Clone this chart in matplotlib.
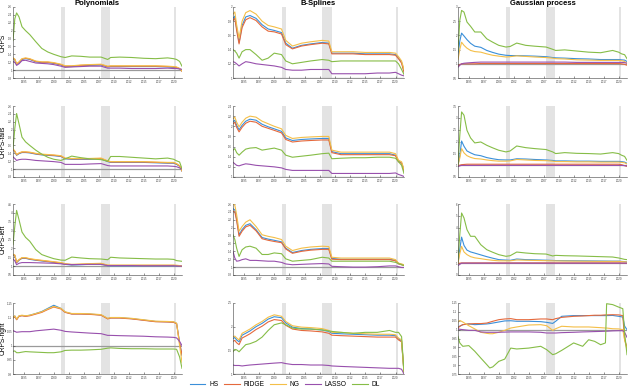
import matplotlib
matplotlib.use("Agg")
import matplotlib.pyplot as plt
from matplotlib.ticker import FormatStrFormatter

plt.rcParams['font.family'] = ['Liberation Sans', 'DejaVu Sans']

# knot dates (decimal years) shared by most panels
T = [1993.2, 1993.5, 1993.8, 1994.2, 1994.7, 1995.3, 1996.0, 1997.0, 1998.0, 1999.0,
     2000.0, 2001.2, 2001.9, 2003.0, 2004.5, 2006.0, 2007.9, 2009.0, 2009.5, 2011.0,
     2013.0, 2015.0, 2017.0, 2019.0, 2020.0, 2020.5, 2021.0, 2021.4]
# own dates for the GP / CRPS-right panel (DL jumps in 2018)
T_GP_RIGHT = [1993.2, 1993.5, 1994.0, 1995.0, 1996.0, 1997.0, 1998.0, 1998.5, 1999.0, 2000.0,
              2001.0, 2002.0, 2003.0, 2005.0, 2007.0, 2008.0, 2009.0, 2009.5, 2010.5, 2012.5,
              2014.0, 2015.0, 2016.0, 2017.0, 2017.8, 2018.0, 2019.0, 2020.0, 2020.7, 2021.0, 2021.4]

models = ['HS', 'RIDGE', 'NG', 'LASSO', 'DL']
colors = ['#3a8fd9', '#e5693c', '#f4bf48', '#9850ad', '#86bd47']
col_titles = ['Polynomials', 'B-Splines', 'Gaussian process']
row_labels = ['CRPS', 'CRPS-tails', 'CRPS-left', 'CRPS-right']
recessions = [(2001.2, 2001.9), (2007.92, 2009.45), (2020.0, 2020.4)]

# ---- row 1: CRPS ----
poly_crps = {
    'HS':    [1.29, 1.26, 1.14, 1.19, 1.27, 1.29, 1.27, 1.21, 1.19, 1.19, 1.17, 1.13, 1.09, 1.09, 1.11, 1.12, 1.13, 1.08, 1.09, 1.09, 1.09, 1.09, 1.09, 1.08, 1.07, 1.06, 1.03, 0.98],
    'RIDGE': [1.30, 1.27, 1.15, 1.20, 1.28, 1.30, 1.28, 1.22, 1.20, 1.20, 1.18, 1.14, 1.10, 1.10, 1.12, 1.13, 1.14, 1.09, 1.10, 1.10, 1.10, 1.10, 1.10, 1.09, 1.08, 1.07, 1.04, 0.97],
    'NG':    [1.31, 1.28, 1.16, 1.21, 1.29, 1.31, 1.29, 1.23, 1.21, 1.21, 1.19, 1.15, 1.11, 1.11, 1.13, 1.14, 1.15, 1.10, 1.11, 1.11, 1.11, 1.11, 1.11, 1.10, 1.09, 1.08, 1.04, 0.98],
    'LASSO': [1.22, 1.20, 1.12, 1.16, 1.24, 1.25, 1.22, 1.18, 1.17, 1.16, 1.14, 1.10, 1.07, 1.08, 1.09, 1.10, 1.10, 1.05, 1.05, 1.05, 1.04, 1.04, 1.04, 1.05, 1.04, 1.04, 1.03, 1.02],
    'DL':    [1.75, 2.30, 2.45, 2.35, 2.10, 2.00, 1.90, 1.72, 1.55, 1.46, 1.40, 1.34, 1.32, 1.36, 1.35, 1.33, 1.33, 1.27, 1.32, 1.33, 1.32, 1.30, 1.29, 1.31, 1.29, 1.27, 1.22, 1.10],
}
bspl_crps = {
    'HS':    [1.84, 1.87, 1.70, 1.50, 1.74, 1.86, 1.88, 1.84, 1.75, 1.69, 1.67, 1.64, 1.49, 1.42, 1.46, 1.48, 1.50, 1.49, 1.35, 1.35, 1.35, 1.34, 1.34, 1.34, 1.33, 1.28, 1.22, 1.10],
    'RIDGE': [1.81, 1.84, 1.67, 1.48, 1.71, 1.82, 1.85, 1.81, 1.72, 1.66, 1.65, 1.62, 1.47, 1.41, 1.45, 1.47, 1.49, 1.48, 1.34, 1.34, 1.34, 1.33, 1.33, 1.33, 1.32, 1.27, 1.21, 1.08],
    'NG':    [1.90, 1.93, 1.75, 1.56, 1.80, 1.92, 1.95, 1.90, 1.80, 1.74, 1.72, 1.69, 1.53, 1.45, 1.49, 1.51, 1.53, 1.52, 1.37, 1.37, 1.37, 1.36, 1.36, 1.36, 1.35, 1.30, 1.24, 1.12],
    'LASSO': [1.23, 1.22, 1.20, 1.17, 1.20, 1.23, 1.22, 1.20, 1.19, 1.18, 1.17, 1.15, 1.12, 1.11, 1.11, 1.12, 1.12, 1.12, 1.06, 1.06, 1.06, 1.06, 1.07, 1.07, 1.08, 1.06, 1.04, 1.03],
    'DL':    [1.40, 1.38, 1.35, 1.28, 1.37, 1.40, 1.40, 1.33, 1.25, 1.28, 1.35, 1.33, 1.24, 1.20, 1.22, 1.24, 1.26, 1.25, 1.23, 1.24, 1.24, 1.24, 1.24, 1.24, 1.24, 1.20, 1.12, 1.05],
}
gp_crps = {
    'HS':    [1.30, 1.80, 2.08, 1.98, 1.85, 1.72, 1.62, 1.58, 1.47, 1.40, 1.34, 1.30, 1.29, 1.29, 1.28, 1.27, 1.25, 1.22, 1.21, 1.20, 1.18, 1.17, 1.15, 1.15, 1.15, 1.14, 1.13, 1.08],
    'RIDGE': [0.93, 0.97, 1.00, 1.00, 1.00, 1.00, 1.00, 1.01, 1.01, 1.01, 1.01, 1.01, 1.01, 1.01, 1.01, 1.01, 1.01, 1.01, 1.01, 1.01, 1.01, 1.01, 1.01, 1.01, 1.01, 1.00, 0.98, 0.95],
    'NG':    [1.15, 1.50, 1.76, 1.65, 1.55, 1.47, 1.43, 1.41, 1.35, 1.30, 1.27, 1.24, 1.25, 1.28, 1.26, 1.24, 1.22, 1.20, 1.18, 1.17, 1.14, 1.13, 1.12, 1.12, 1.12, 1.11, 1.08, 1.02],
    'LASSO': [0.88, 0.95, 1.00, 1.02, 1.03, 1.04, 1.05, 1.06, 1.06, 1.06, 1.06, 1.06, 1.06, 1.06, 1.06, 1.06, 1.06, 1.06, 1.06, 1.06, 1.05, 1.05, 1.05, 1.05, 1.05, 1.05, 1.04, 1.02],
    'DL':    [1.47, 2.53, 2.88, 2.82, 2.47, 2.32, 2.12, 2.12, 1.88, 1.76, 1.65, 1.59, 1.61, 1.73, 1.65, 1.62, 1.59, 1.51, 1.47, 1.49, 1.45, 1.41, 1.39, 1.47, 1.41, 1.35, 1.32, 1.18],
}

# ---- row 2: CRPS-tails ----
poly_tails = {
    'HS':    [1.49, 1.44, 1.35, 1.39, 1.42, 1.42, 1.41, 1.38, 1.36, 1.35, 1.34, 1.32, 1.26, 1.25, 1.25, 1.25, 1.26, 1.19, 1.17, 1.17, 1.17, 1.17, 1.16, 1.15, 1.15, 1.12, 1.07, 0.95],
    'RIDGE': [1.50, 1.45, 1.36, 1.40, 1.43, 1.43, 1.42, 1.39, 1.37, 1.36, 1.35, 1.33, 1.27, 1.26, 1.26, 1.26, 1.27, 1.20, 1.18, 1.18, 1.18, 1.18, 1.17, 1.16, 1.16, 1.13, 1.08, 0.95],
    'NG':    [1.51, 1.46, 1.37, 1.41, 1.44, 1.44, 1.43, 1.40, 1.38, 1.37, 1.36, 1.34, 1.28, 1.27, 1.27, 1.27, 1.28, 1.21, 1.19, 1.19, 1.19, 1.19, 1.18, 1.17, 1.17, 1.14, 1.09, 0.96],
    'LASSO': [1.31, 1.27, 1.22, 1.24, 1.25, 1.25, 1.24, 1.22, 1.21, 1.20, 1.19, 1.17, 1.12, 1.12, 1.12, 1.13, 1.14, 1.09, 1.08, 1.08, 1.08, 1.08, 1.08, 1.08, 1.07, 1.06, 1.03, 1.00],
    'DL':    [1.52, 2.03, 2.41, 2.15, 1.81, 1.69, 1.60, 1.48, 1.38, 1.30, 1.25, 1.22, 1.26, 1.33, 1.29, 1.26, 1.24, 1.20, 1.32, 1.32, 1.30, 1.28, 1.26, 1.28, 1.25, 1.21, 1.18, 1.01],
}
bspl_tails = {
    'HS':    [2.09, 2.12, 2.02, 1.93, 2.02, 2.10, 2.14, 2.12, 2.04, 1.99, 1.95, 1.90, 1.77, 1.72, 1.74, 1.75, 1.76, 1.76, 1.50, 1.46, 1.46, 1.46, 1.46, 1.46, 1.43, 1.31, 1.28, 1.13],
    'RIDGE': [2.05, 2.08, 1.98, 1.89, 1.98, 2.06, 2.10, 2.08, 2.00, 1.96, 1.92, 1.87, 1.74, 1.69, 1.71, 1.72, 1.73, 1.73, 1.48, 1.44, 1.44, 1.44, 1.44, 1.44, 1.42, 1.30, 1.27, 1.12],
    'NG':    [2.15, 2.18, 2.08, 1.99, 2.08, 2.16, 2.20, 2.18, 2.10, 2.05, 2.00, 1.95, 1.82, 1.76, 1.78, 1.79, 1.80, 1.80, 1.53, 1.49, 1.49, 1.49, 1.49, 1.49, 1.46, 1.33, 1.30, 1.15],
    'LASSO': [1.29, 1.26, 1.23, 1.22, 1.24, 1.26, 1.25, 1.23, 1.22, 1.21, 1.20, 1.18, 1.15, 1.13, 1.13, 1.13, 1.13, 1.13, 1.07, 1.07, 1.07, 1.07, 1.07, 1.07, 1.08, 1.05, 1.03, 1.01],
    'DL':    [1.53, 1.56, 1.48, 1.43, 1.49, 1.55, 1.57, 1.58, 1.53, 1.55, 1.57, 1.53, 1.43, 1.39, 1.41, 1.43, 1.46, 1.47, 1.36, 1.37, 1.38, 1.38, 1.39, 1.39, 1.37, 1.30, 1.23, 1.07],
}
gp_tails = {
    'HS':    [1.00, 1.40, 2.02, 1.80, 1.60, 1.52, 1.44, 1.40, 1.32, 1.27, 1.23, 1.22, 1.22, 1.27, 1.26, 1.24, 1.22, 1.20, 1.18, 1.18, 1.17, 1.17, 1.16, 1.16, 1.16, 1.15, 1.13, 1.08],
    'RIDGE': [0.96, 1.00, 1.02, 1.03, 1.04, 1.04, 1.04, 1.04, 1.04, 1.04, 1.04, 1.04, 1.04, 1.04, 1.04, 1.04, 1.04, 1.04, 1.04, 1.04, 1.04, 1.04, 1.04, 1.04, 1.04, 1.02, 0.98, 0.95],
    'NG':    [1.00, 1.30, 1.70, 1.52, 1.40, 1.33, 1.28, 1.26, 1.22, 1.19, 1.17, 1.17, 1.18, 1.24, 1.22, 1.20, 1.19, 1.17, 1.15, 1.15, 1.14, 1.14, 1.13, 1.13, 1.13, 1.12, 1.10, 1.05],
    'LASSO': [0.94, 0.97, 0.99, 0.99, 0.99, 0.99, 0.99, 0.99, 0.99, 0.99, 0.99, 0.99, 0.99, 0.99, 0.99, 0.99, 0.99, 0.99, 0.99, 0.99, 0.99, 0.99, 0.99, 0.99, 0.99, 0.99, 0.98, 0.97],
    'DL':    [1.06, 2.26, 3.25, 3.11, 2.47, 2.15, 1.94, 1.98, 1.84, 1.73, 1.63, 1.56, 1.60, 1.81, 1.74, 1.70, 1.66, 1.56, 1.49, 1.53, 1.50, 1.49, 1.47, 1.53, 1.49, 1.42, 1.37, 1.20],
}

# ---- row 3: CRPS-left ----
poly_left = {
    'HS':    [1.63, 1.59, 1.19, 1.33, 1.44, 1.44, 1.38, 1.33, 1.29, 1.25, 1.21, 1.16, 1.10, 1.06, 1.08, 1.10, 1.12, 1.02, 1.02, 1.02, 1.02, 1.02, 1.02, 1.02, 1.02, 1.01, 1.00, 0.98],
    'RIDGE': [1.65, 1.61, 1.21, 1.35, 1.46, 1.46, 1.40, 1.35, 1.31, 1.27, 1.23, 1.18, 1.12, 1.08, 1.10, 1.12, 1.14, 1.04, 1.04, 1.04, 1.04, 1.04, 1.04, 1.04, 1.04, 1.03, 1.02, 0.99],
    'NG':    [1.67, 1.63, 1.23, 1.37, 1.48, 1.48, 1.42, 1.37, 1.33, 1.29, 1.25, 1.20, 1.14, 1.10, 1.12, 1.14, 1.16, 1.06, 1.06, 1.06, 1.06, 1.06, 1.06, 1.06, 1.06, 1.05, 1.03, 1.00],
    'LASSO': [1.40, 1.30, 1.08, 1.16, 1.20, 1.20, 1.20, 1.19, 1.18, 1.17, 1.16, 1.13, 1.10, 1.09, 1.09, 1.10, 1.10, 1.03, 1.03, 1.03, 1.03, 1.02, 1.02, 1.02, 1.02, 1.01, 1.00, 1.00],
    'DL':    [2.21, 3.24, 4.14, 3.62, 2.92, 2.62, 2.40, 1.93, 1.65, 1.53, 1.42, 1.34, 1.33, 1.51, 1.46, 1.42, 1.40, 1.36, 1.50, 1.46, 1.44, 1.42, 1.40, 1.40, 1.38, 1.31, 1.29, 1.27],
}
bspl_left = {
    'HS':    [2.48, 2.45, 2.22, 1.82, 1.95, 2.06, 2.10, 1.95, 1.75, 1.71, 1.68, 1.64, 1.48, 1.37, 1.42, 1.45, 1.47, 1.47, 1.22, 1.20, 1.20, 1.20, 1.20, 1.20, 1.17, 1.09, 1.07, 1.05],
    'RIDGE': [2.42, 2.40, 2.18, 1.78, 1.91, 2.02, 2.06, 1.92, 1.72, 1.68, 1.65, 1.62, 1.46, 1.35, 1.40, 1.43, 1.45, 1.45, 1.20, 1.19, 1.19, 1.19, 1.19, 1.19, 1.16, 1.08, 1.06, 1.04],
    'NG':    [2.60, 2.57, 2.33, 1.91, 2.03, 2.14, 2.20, 2.03, 1.82, 1.78, 1.75, 1.70, 1.53, 1.42, 1.48, 1.51, 1.53, 1.52, 1.25, 1.23, 1.23, 1.23, 1.23, 1.23, 1.19, 1.10, 1.08, 1.06],
    'LASSO': [1.40, 1.23, 1.15, 1.16, 1.19, 1.21, 1.17, 1.17, 1.16, 1.15, 1.15, 1.12, 1.08, 1.06, 1.07, 1.08, 1.09, 1.08, 1.02, 1.01, 1.00, 1.00, 1.01, 1.03, 1.03, 1.01, 0.99, 0.99],
    'DL':    [1.82, 1.70, 1.48, 1.27, 1.44, 1.51, 1.53, 1.48, 1.32, 1.32, 1.36, 1.34, 1.21, 1.15, 1.17, 1.19, 1.25, 1.23, 1.15, 1.15, 1.15, 1.15, 1.15, 1.15, 1.12, 1.09, 1.06, 1.04],
}
gp_left = {
    'HS':    [1.00, 2.20, 3.20, 2.50, 2.10, 1.95, 1.85, 1.70, 1.55, 1.42, 1.30, 1.26, 1.24, 1.35, 1.30, 1.28, 1.25, 1.23, 1.22, 1.21, 1.20, 1.19, 1.18, 1.17, 1.17, 1.15, 1.13, 1.10],
    'RIDGE': [0.95, 1.00, 1.02, 1.02, 1.02, 1.02, 1.02, 1.02, 1.02, 1.02, 1.02, 1.02, 1.02, 1.02, 1.02, 1.02, 1.02, 1.02, 1.02, 1.02, 1.02, 1.02, 1.02, 1.02, 1.02, 1.01, 1.00, 0.98],
    'NG':    [1.00, 1.80, 2.42, 1.95, 1.72, 1.55, 1.45, 1.38, 1.30, 1.24, 1.20, 1.20, 1.20, 1.27, 1.25, 1.23, 1.21, 1.20, 1.19, 1.18, 1.17, 1.16, 1.15, 1.15, 1.15, 1.13, 1.12, 1.10],
    'LASSO': [0.80, 0.90, 1.00, 1.00, 1.00, 1.00, 1.00, 1.00, 1.00, 1.00, 1.00, 1.00, 1.00, 1.00, 1.00, 1.00, 1.00, 1.00, 1.00, 1.00, 1.00, 1.00, 1.00, 1.00, 1.00, 1.00, 1.00, 1.00],
    'DL':    [1.30, 3.41, 5.24, 4.82, 3.83, 3.27, 3.27, 2.56, 2.14, 1.92, 1.72, 1.58, 1.63, 1.94, 1.86, 1.80, 1.77, 1.61, 1.66, 1.63, 1.61, 1.58, 1.55, 1.52, 1.44, 1.38, 1.32, 1.30],
}

# ---- row 4: CRPS-right ----
poly_right = {
    'HS':    [1.098, 1.104, 1.092, 1.104, 1.106, 1.104, 1.107, 1.113, 1.120, 1.131, 1.142, 1.131, 1.118, 1.112, 1.112, 1.111, 1.108, 1.095, 1.098, 1.098, 1.095, 1.090, 1.085, 1.084, 1.083, 1.078, 1.010, 0.965],
    'RIDGE': [1.097, 1.103, 1.091, 1.103, 1.105, 1.103, 1.105, 1.111, 1.117, 1.127, 1.136, 1.129, 1.117, 1.111, 1.111, 1.110, 1.107, 1.094, 1.097, 1.097, 1.094, 1.089, 1.084, 1.083, 1.082, 1.077, 1.009, 0.968],
    'NG':    [1.099, 1.105, 1.093, 1.105, 1.107, 1.105, 1.107, 1.113, 1.119, 1.129, 1.138, 1.131, 1.119, 1.113, 1.113, 1.112, 1.109, 1.096, 1.099, 1.099, 1.096, 1.091, 1.086, 1.085, 1.084, 1.079, 1.000, 0.940],
    'LASSO': [1.053, 1.050, 1.047, 1.048, 1.049, 1.049, 1.049, 1.052, 1.054, 1.056, 1.058, 1.054, 1.050, 1.048, 1.046, 1.044, 1.042, 1.036, 1.036, 1.035, 1.034, 1.033, 1.031, 1.030, 1.029, 1.027, 1.015, 1.000],
    'DL':    [0.980, 0.981, 0.975, 0.975, 0.977, 0.979, 0.978, 0.977, 0.976, 0.975, 0.975, 0.978, 0.983, 0.984, 0.984, 0.985, 0.987, 0.991, 0.992, 0.990, 0.989, 0.989, 0.988, 0.988, 0.988, 0.987, 0.960, 0.920],
}
bspl_right = {
    'HS':    [1.75, 1.77, 1.72, 1.68, 1.82, 1.86, 1.91, 2.00, 2.07, 2.16, 2.21, 2.19, 2.08, 1.99, 1.96, 1.95, 1.93, 1.90, 1.86, 1.85, 1.84, 1.83, 1.82, 1.82, 1.81, 1.74, 1.70, 1.03],
    'RIDGE': [1.69, 1.71, 1.66, 1.62, 1.76, 1.80, 1.85, 1.94, 2.01, 2.10, 2.15, 2.13, 2.03, 1.95, 1.92, 1.91, 1.89, 1.86, 1.82, 1.81, 1.80, 1.79, 1.78, 1.78, 1.78, 1.72, 1.68, 1.04],
    'NG':    [1.79, 1.80, 1.76, 1.72, 1.86, 1.90, 1.95, 2.04, 2.11, 2.20, 2.25, 2.22, 2.11, 2.02, 1.99, 1.98, 1.96, 1.92, 1.88, 1.88, 1.86, 1.85, 1.84, 1.84, 1.83, 1.76, 1.72, 1.01],
    'LASSO': [1.19, 1.18, 1.18, 1.18, 1.17, 1.18, 1.19, 1.20, 1.21, 1.22, 1.23, 1.24, 1.22, 1.20, 1.20, 1.19, 1.19, 1.18, 1.17, 1.16, 1.15, 1.14, 1.13, 1.12, 1.12, 1.12, 1.10, 1.00],
    'DL':    [1.47, 1.52, 1.51, 1.47, 1.54, 1.62, 1.64, 1.69, 1.78, 1.92, 2.04, 2.08, 2.04, 1.97, 1.95, 1.95, 1.93, 1.91, 1.90, 1.88, 1.86, 1.88, 1.88, 1.92, 1.88, 1.88, 1.79, 1.05],
}
gp_right = {
    'HS':    [1.015, 1.019, 1.028, 1.032, 1.028, 1.030, 1.032, 1.034, 1.037, 1.043, 1.049, 1.050, 1.047, 1.047, 1.045, 1.041, 1.035, 1.047, 1.075, 1.079, 1.079, 1.079, 1.079, 1.079, 1.079, 1.079, 1.080, 1.075, 1.071, 1.020, 1.000],
    'RIDGE': [1.009, 1.019, 1.028, 1.032, 1.034, 1.034, 1.037, 1.042, 1.047, 1.056, 1.060, 1.062, 1.056, 1.056, 1.060, 1.060, 1.056, 1.062, 1.069, 1.075, 1.077, 1.079, 1.081, 1.081, 1.083, 1.083, 1.084, 1.083, 1.079, 0.943, 0.902],
    'NG':    [1.043, 1.052, 1.043, 1.022, 1.004, 0.985, 0.979, 0.977, 0.977, 0.985, 0.996, 1.009, 1.015, 1.026, 1.028, 1.022, 0.996, 1.005, 1.019, 1.015, 1.015, 1.015, 1.013, 1.011, 1.009, 1.009, 1.005, 1.004, 1.000, 0.943, 0.887],
    'LASSO': [1.004, 1.002, 1.000, 0.996, 0.996, 0.987, 0.985, 0.985, 0.985, 0.985, 0.986, 0.987, 0.987, 0.987, 0.985, 0.981, 0.981, 0.981, 0.983, 0.985, 0.987, 0.988, 0.989, 0.990, 0.991, 0.991, 0.993, 0.994, 0.994, 0.985, 0.957],
    'DL':    [0.962, 0.925, 0.906, 0.910, 0.878, 0.840, 0.803, 0.784, 0.790, 0.821, 0.834, 0.896, 0.891, 0.896, 0.906, 0.887, 0.859, 0.864, 0.883, 0.925, 0.906, 0.943, 0.934, 0.915, 0.925, 1.146, 1.141, 1.127, 1.118, 0.981, 0.859],
}

panels = [
    [(poly_crps, T), (bspl_crps, T), (gp_crps, T)],
    [(poly_tails, T), (bspl_tails, T), (gp_tails, T)],
    [(poly_left, T), (bspl_left, T), (gp_left, T)],
    [(poly_right, T), (bspl_right, T), (gp_right, T_GP_RIGHT)],
]
# y-axis range and tick step per panel
ylims = [
    [(0.8, 2.6, 0.2), (1.0, 2.0, 0.2), (0.5, 3.0, 0.5)],
    [(0.8, 2.6, 0.2), (1.0, 2.4, 0.2), (0.5, 3.5, 0.5)],
    [(0.5, 4.5, 0.5), (0.8, 2.6, 0.2), (0.0, 6.0, 1.0)],
    [(0.9, 1.15, 0.05), (1.0, 2.5, 0.5), (0.75, 1.15, 0.05)],
]
xticks = [1995 + 2.5 * k for k in range(11)]
xticklabels = [str(int(x)) for x in xticks]

W, H = 628, 391
col_left = [13, 233, 458]
col_right = [182, 404, 627]
row_top = [7, 106, 204, 303]
row_h = 71

fig = plt.figure(figsize=(W / 100, H / 100), dpi=100)

handles = []
for i in range(4):
    for j in range(3):
        l, r, t = col_left[j], col_right[j], row_top[i]
        ax = fig.add_axes([l / W, 1 - (t + row_h) / H, (r - l) / W, row_h / H])
        data, dates = panels[i][j]
        for a, b in recessions:
            ax.axvspan(a, b, color='#e3e3e3', lw=0, zorder=0)
        ax.axhline(1, color='#9a9a9a', lw=0.9, zorder=1)
        for m, c in zip(models, colors):
            ln, = ax.plot(dates, data[m], color=c, lw=0.8, label=m, zorder=2)
            if i == 0 and j == 0:
                handles.append(ln)
        lo, hi, step = ylims[i][j]
        n = int(round((hi - lo) / step))
        ax.set_ylim(lo, hi)
        ax.set_yticks([lo + step * k for k in range(n + 1)])
        ax.yaxis.set_major_formatter(FormatStrFormatter('%g'))
        ax.set_xlim(1993.2, 2021.4)
        ax.set_xticks(xticks)
        ax.set_xticklabels(xticklabels)
        ax.tick_params(direction='in', length=1.5, width=0.4, labelsize=2.1,
                       colors='#404040')
        ax.tick_params(axis='y', pad=0.6)
        ax.tick_params(axis='x', pad=1.2)
        for s in ['top', 'right']:
            ax.spines[s].set_visible(False)
        for s in ['left', 'bottom']:
            ax.spines[s].set_color('#404040')
            ax.spines[s].set_linewidth(0.4)
        if i == 0:
            ax.set_title(col_titles[j], fontsize=5.5, fontweight='bold', pad=1.5)
        if j == 0:
            ax.set_ylabel(row_labels[i], fontsize=4.8)
            ax.yaxis.set_label_coords(-5.9 / (r - l), 0.5)

fig.legend(handles, models, loc='center', bbox_to_anchor=(285 / W, 1 - 385 / H),
           ncol=5, frameon=False, fontsize=4.8, handlelength=2.3,
           handletextpad=0.6, columnspacing=0.85, borderpad=0)

fig.savefig('out.png', dpi=100)
